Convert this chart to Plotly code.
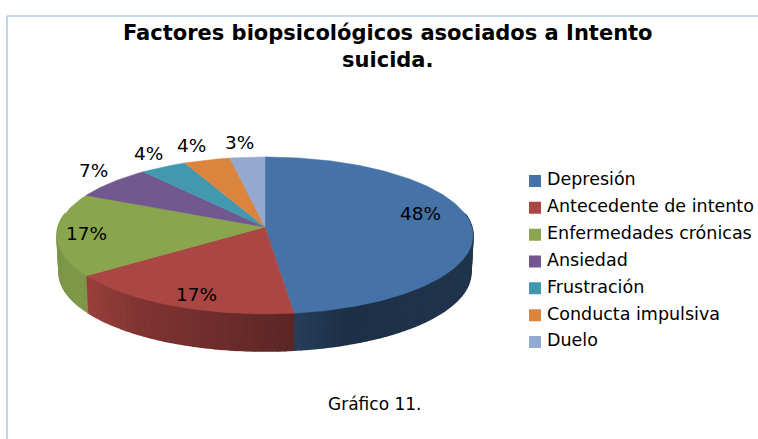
import numpy as np
import plotly.graph_objects as go

categories = ["Depresión", "Antecedente de intento", "Enfermedades crónicas", "Ansiedad",
              "Frustración", "Conducta impulsiva", "Duelo"]
values = [48, 17, 17, 7, 4, 4, 3]
colors = ["#4572A7", "#AA4643", "#89A54E", "#71588F", "#4198AF", "#DB843D", "#93A9CF"]
label_shift = [(-50, 9), (23, 12), (29, 1), (-18, 12), (-15, 13), (-16, 15), (-8, 15)]

title_text = "Factores biopsicológicos asociados a Intento<br>suicida."
caption_text = "Gráfico 11."

W, H = 758, 439
CX, CY = 265.0, 227.0      # pie apex on screen
RX, RY, PERSP = 206.8, 77.6, 0.108
DEPTH, BOTTOM_SCALE = 37.0, 0.99
FONT = "DejaVu Sans"


def project(theta, r=1.0, drop=0.0, scale=1.0):
    u, v = r * np.sin(theta), r * np.cos(theta)
    w = 1 + PERSP * v
    return CX + scale * RX * u / w, CY - RY * v / w + drop


def shade(hex_color, f):
    rgb = [int(hex_color[i:i + 2], 16) for i in (1, 3, 5)]
    return "rgb({},{},{})".format(*[int(round(c * f)) for c in rgb])


def wall_factor(theta):
    return float(np.interp(np.sin(theta), [-1, -0.86, -0.55, 0.15, 0.35, 1],
                           [0.90, 0.93, 0.75, 0.53, 0.42, 0.46]))


fig = go.Figure()
frac = np.array(values, dtype=float) / sum(values)
edges = np.concatenate([[0], np.cumsum(frac)]) * 2 * np.pi

# side walls
step = np.radians(2.0)
for i, color in enumerate(colors):
    lo, hi = max(edges[i], np.radians(80)), min(edges[i + 1], np.radians(280))
    if hi <= lo:
        continue
    n = max(1, int(np.ceil((hi - lo) / step)))
    ts = np.linspace(lo, hi, n + 1)
    for a, b in zip(ts[:-1], ts[1:]):
        tt = np.array([a, b])
        xt, yt = project(tt)
        xb, yb = project(tt[::-1], drop=DEPTH, scale=BOTTOM_SCALE)
        c = shade(color, wall_factor((a + b) / 2))
        fig.add_trace(go.Scatter(x=np.r_[xt, xb], y=np.r_[yt, yb], mode="lines", fill="toself",
                                 fillcolor=c, line=dict(color=c, width=1.6),
                                 hoverinfo="skip", showlegend=False))

# top faces
for i, color in enumerate(colors):
    n = max(2, int(np.degrees(edges[i + 1] - edges[i])))
    ts = np.linspace(edges[i], edges[i + 1], n + 1)
    x, y = project(ts)
    fig.add_trace(go.Scatter(x=np.r_[CX, x, CX], y=np.r_[CY, y, CY], mode="lines", fill="toself",
                             fillcolor=color, line=dict(color=color, width=0.5),
                             name=categories[i], hoverinfo="name", showlegend=False))

# key
fig.add_trace(go.Scatter(x=[535] * len(categories), y=categories, yaxis="y2", mode="markers",
                         marker=dict(symbol="square", size=12, color=colors, line=dict(width=0)),
                         hoverinfo="skip", showlegend=False))
fig.add_trace(go.Scatter(x=[547] * len(categories), y=categories, yaxis="y2", mode="text",
                         text=categories, textposition="middle right",
                         textfont=dict(family=FONT, size=17.5, color="#000000"),
                         hoverinfo="skip", showlegend=False))

annotations = []
mids = (edges[:-1] + edges[1:]) / 2
for v, t, (dx, dy) in zip(values, mids, label_shift):
    px, py = project(t)
    annotations.append(dict(x=float(px), y=float(py), xref="x", yref="y", text=f"{v}%", showarrow=False,
                            xshift=dx, yshift=dy, font=dict(family=FONT, size=18.5, color="#000")))
annotations.append(dict(x=388, y=46, xref="x", yref="y",
                        text="<b>" + title_text.replace("<br>", "</b><br><b>") + "</b>",
                        showarrow=False, align="center",
                        font=dict(family=FONT, size=21, color="#000")))
annotations.append(dict(x=374, y=404, xref="x", yref="y", text=caption_text, showarrow=False,
                        font=dict(family=FONT, size=17, color="#000")))

fig.update_layout(
    width=W, height=H, margin=dict(l=0, r=0, t=0, b=0), paper_bgcolor="white",
    plot_bgcolor="rgba(0,0,0,0)", showlegend=False,
    xaxis=dict(range=[0, W], visible=False, domain=[0, 1], fixedrange=True),
    yaxis=dict(range=[H, 0], visible=False, domain=[0, 1], fixedrange=True),
    yaxis2=dict(type="category", categoryorder="array", categoryarray=categories,
                range=[6.5, -0.5], domain=[1 - 355.4 / H, 1 - 167.6 / H],
                anchor="x", visible=False, fixedrange=True),
    annotations=annotations,
    shapes=[
        dict(type="line", xref="x", yref="y", x0=7, x1=W, y0=16, y1=16, line=dict(color="#b4c8e2", width=1.5)),
        dict(type="line", xref="x", yref="y", x0=7, x1=7, y0=16, y1=H, line=dict(color="#9db8dc", width=1.2)),
    ],
)
fig.write_html("out.html", config={"displayModeBar": False},
               post_script="document.body.style.margin='0';document.documentElement.style.overflow='hidden';")
